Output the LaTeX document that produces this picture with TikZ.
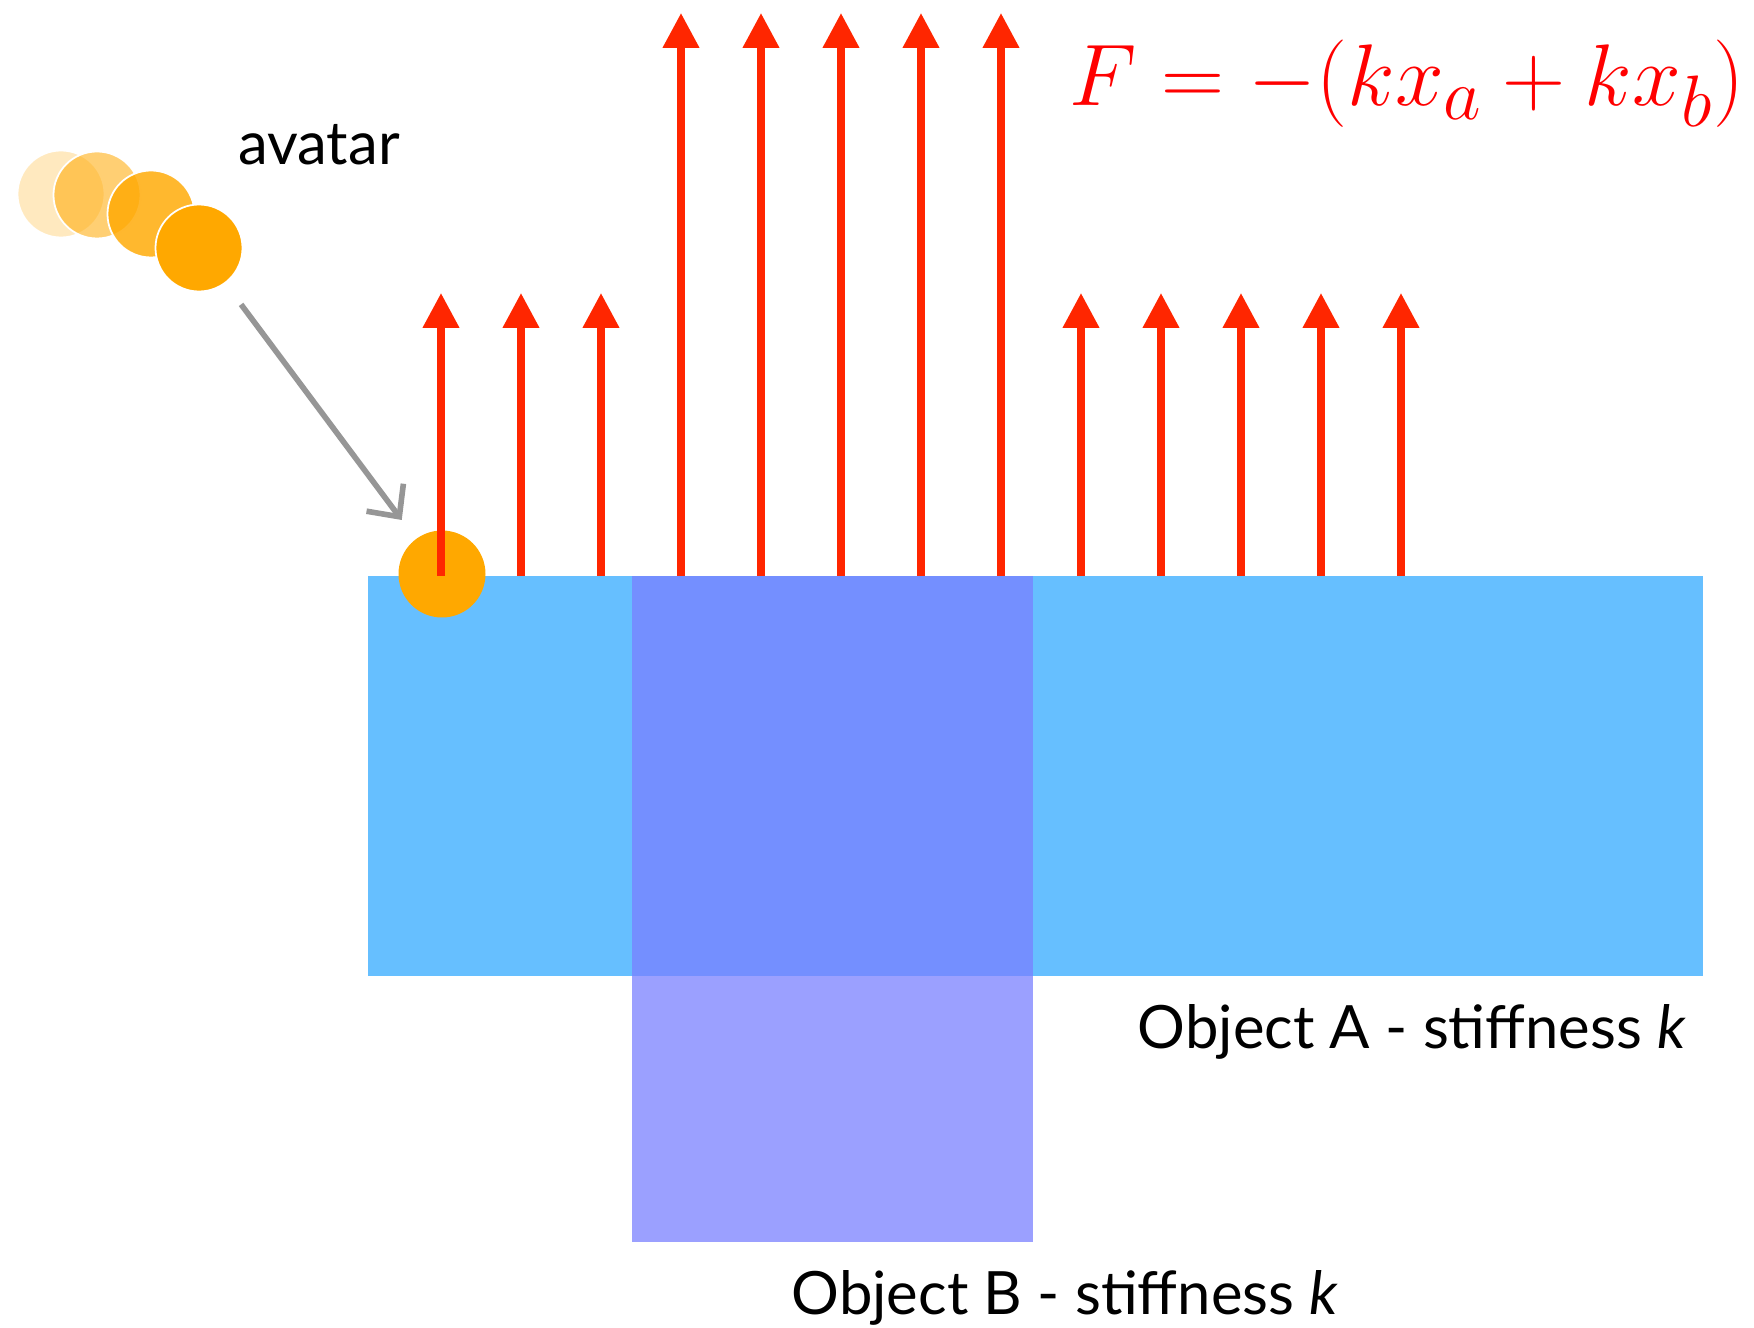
\documentclass[tikz,border=0pt]{standalone}
\usepackage{amsmath}
\usepackage{fontspec}
\setsansfont{Lato}
\usepackage{tikz}
\usetikzlibrary{arrows.meta}
\usepackage{xcolor}

\definecolor{objA}{RGB}{102,191,255}
\definecolor{objB}{RGB}{122,128,255}
\definecolor{ballorange}{RGB}{255,168,0}
\definecolor{forcered}{RGB}{255,38,0}
\definecolor{pathgray}{RGB}{150,150,150}

\begin{document}
\begin{tikzpicture}

        % 1. Page size and the main measures
        \useasboundingbox (0,0) rectangle (17.54,13.27);
        \pgfmathsetmacro{\surf}{7.51}   % top face of both objects
        \pgfmathsetmacro{\ballr}{0.87}  % diameter of the avatar
        
        \coordinate (A_sw) at (3.68, 3.51);  % Object A
        \coordinate (A_ne) at (17.03, \surf);
        \coordinate (B_sw) at (6.32, 0.85);  % Object B
        \coordinate (B_ne) at (10.33, \surf);

        \tikzset{
          ball/.style={circle, fill=ballorange, draw=white, line width=0.5pt, minimum size=\ballr cm, inner sep=0pt},
          force/.style={forcered, line width=2.1pt, -{Triangle[length=3.5mm, width=3.5mm]}},
          motion/.style={pathgray, line width=1.6pt, -{Straight Barb[length=2.4mm, width=4.6mm]}},
          label/.style={font=\sffamily\fontsize{17}{20}\selectfont, inner sep=0pt}
        }

        % 2. The two objects (B overlaps A)
        \fill[objA] (A_sw) rectangle (A_ne);
        \fill[objB, opacity=0.75] (B_sw) rectangle (B_ne);

        % 3. The avatar and its trail
        \node[ball, fill opacity=0.25] (trail1) at (0.61, 11.33) {};
        \node[ball, fill opacity=0.55] (trail2) at (0.97, 11.32) {};
        \node[ball, fill opacity=0.82] (trail3) at (1.51, 11.13) {};
        \node[ball] (trail4) at (1.99, 10.79) {};
        \node[ball, draw=none] (avatar) at (4.42, 7.53) {};

        \draw[motion, shorten <=0.26cm, shorten >=0.23cm] (trail4) -- (avatar);

        % 4. Forces on the surface (tall ones where A and B overlap)
        \foreach \i in {0,...,12} {
          \coordinate (base\i) at (4.41+0.8*\i, \surf);
          \ifnum\i>2 \ifnum\i<8
            \coordinate (tip\i) at (4.41+0.8*\i, 13.14);
          \else
            \coordinate (tip\i) at (4.41+0.8*\i, 10.34);
          \fi \else
            \coordinate (tip\i) at (4.41+0.8*\i, 10.34);
          \fi
          \draw[force] (base\i) -- (tip\i);
        }

        % 5. Labels
        \node[label, anchor=base] (avatarlabel) at (3.19, 11.62) {avatar};
        \node[label, anchor=base] (labelA) at (14.12, 2.79) {Object A - stiffness \textit{k}};
        \node[label, anchor=base] (labelB) at (10.65, 0.13) {Object B - stiffness \textit{k}};
        \node[red, inner sep=0pt, anchor=base, font=\fontsize{24.88}{28}\selectfont] (forcelaw) at (14.07, 12.21)
          {$F=-(kx_a+kx_b)$};

    \end{tikzpicture}
\end{document}
